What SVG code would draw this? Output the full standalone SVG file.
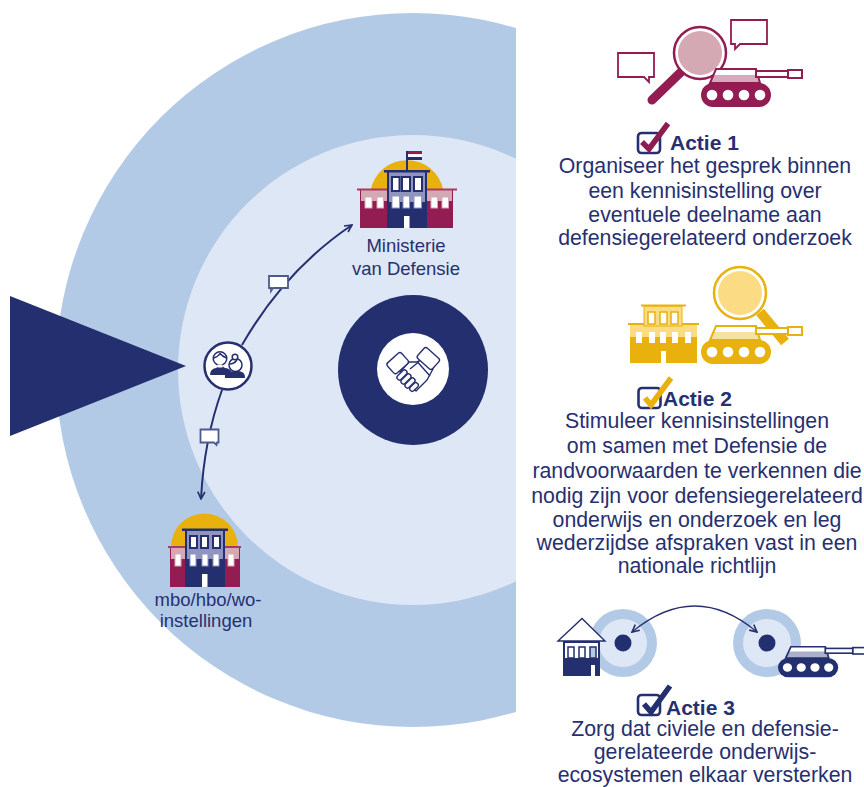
<svg xmlns="http://www.w3.org/2000/svg" width="864" height="787" viewBox="0 0 864 787">
<style>
text{font-family:"Liberation Sans",Arial,sans-serif;fill:#27306f;text-anchor:middle}
.b{font-size:21.300px}
.l{font-size:18.500px}
.h{font-size:21px;font-weight:bold;text-anchor:start}
.conn{fill:none;stroke:#27306f;stroke-width:2}
.bub{fill:#fff;stroke:#4d5a92;stroke-width:1.800}
.bubr{fill:#fff;stroke:#931c52;stroke-width:1.800}
.box{fill:none;stroke:#27306f;stroke-width:2.600}
.chk{fill:none;stroke-width:5.500}
.ic{fill:#fff;stroke:#27306f;stroke-width:1.500;stroke-linejoin:round}
</style>
<defs>
<marker id="ah" viewBox="0 0 10 10" refX="9" refY="5" markerWidth="9" markerHeight="9" orient="auto-start-reverse" markerUnits="userSpaceOnUse"><path d="M1,1 L9,5 L1,9" fill="none" stroke="#27306f" stroke-width="1.800"/></marker>
<symbol id="tank" overflow="visible" width="1" height="1">
<path d="M15,-14H55L59,0H9Z" fill="#fff" stroke="currentColor" stroke-width="2"/>
<path d="M12,-8H57L59,0H9Z" fill="currentColor" fill-opacity=".38"/>
<rect x="55" y="-12" width="32" height="6" fill="#fff" stroke="currentColor" stroke-width="2"/>
<rect x="87" y="-13" width="14" height="8" fill="#fff" stroke="currentColor" stroke-width="2"/>
<rect x="0" y="0" width="70" height="24" rx="12" fill="currentColor"/>
<circle cx="11" cy="12" r="5.300" fill="#fff"/><circle cx="27" cy="12" r="5.300" fill="#fff"/><circle cx="43" cy="12" r="5.300" fill="#fff"/><circle cx="59" cy="12" r="5.300" fill="#fff"/>
</symbol>
</defs>

<g id="background">
<circle cx="413" cy="370" r="357" fill="#b3cae7"/>
<circle cx="413" cy="370" r="235" fill="#dde7f5"/>
<rect x="516" y="0" width="348" height="787" fill="#fff"/>
<path d="M10,296L186,366L10,436Z" fill="#232f6e"/>
</g>

<g id="people">
<circle cx="228" cy="366" r="23.500" fill="#fff" stroke="#27306f" stroke-width="2.500"/>
<path d="M210,375Q210,369 216,368L219,366H222L225,368Q229,368 232,372L230,375Z" fill="#27306f"/>
<path d="M225,378V375Q226,373 231,372L234,371H239L242,372Q245,373 245,378Z" fill="#27306f"/>
<circle cx="220" cy="358.500" r="6.800" class="ic"/>
<path class="ic" d="M213.500,358Q218,357 220,353.500Q222,356 226.500,358" fill="none"/>
<rect x="217.500" y="364.500" width="5" height="3" fill="#fff"/>
<circle cx="235.500" cy="365" r="6.500" class="ic"/>
<circle cx="235" cy="357" r="2.800" class="ic"/>
<path class="ic" d="M229.500,364Q234,364 237,360" fill="none"/>
</g>

<g id="handshake">
<circle cx="413" cy="370" r="75" fill="#232f6e"/>
<circle cx="413" cy="369" r="36" fill="#fff"/>
<g class="ic" style="stroke-width:1.400">
<path d="M400,372L409,362L417,362L425,358L433,369L427,380L416,391L407,385Z"/>
<path d="M410,369L418,362.500L430,376" fill="none"/>
<rect x="-5" y="-10" width="14" height="19" rx="2.500" transform="translate(396,362) rotate(48)"/>
<rect x="-5" y="-10" width="14" height="20" rx="2.500" transform="translate(427,360) rotate(-48)"/>
<rect x="-2.500" y="-6" width="5" height="12" rx="2.400" transform="translate(402,375) rotate(45)"/>
<rect x="-2.500" y="-6" width="5" height="12" rx="2.400" transform="translate(406,379) rotate(45)"/>
<rect x="-2.500" y="-6" width="5" height="12" rx="2.400" transform="translate(410,383) rotate(45)"/>
<rect x="-2.500" y="-5" width="5" height="10" rx="2.400" transform="translate(414,387) rotate(45)"/>
</g>
</g>

<g id="ministerie">
<path d="M370.700,190A37,37 0 0 1 443.300,190Z" fill="#e8b10e"/>
<rect x="360" y="190" width="93" height="38" fill="#931c52"/>
<rect x="361" y="190" width="91" height="11" fill="#d5a9b4"/>
<rect x="357" y="188.500" width="100" height="2" fill="#a83a66"/>
<g fill="#fff" stroke="#d5a9b4"><rect x="365" y="197" width="7" height="11"/><rect x="377" y="197" width="6.500" height="11"/><rect x="431" y="197" width="6.500" height="11"/><rect x="442" y="197" width="6.500" height="11"/></g>
<rect x="387" y="172" width="40" height="56" fill="#232f6e"/>
<rect x="389" y="172" width="36" height="30" fill="#8f95bf"/>
<rect x="384" y="170" width="46" height="2.500" fill="#232f6e"/>
<g fill="#fff" stroke="#232f6e" stroke-width="2"><rect x="392" y="177" width="7.500" height="14"/><rect x="402" y="177" width="8" height="14"/><rect x="414" y="177" width="8" height="14"/></g>
<g fill="#fff" stroke="#8f95bf"><rect x="392" y="196" width="7.500" height="12"/><rect x="403" y="196" width="6.500" height="12"/><rect x="414" y="196" width="7.500" height="12"/></g>
<rect x="404" y="216" width="5.500" height="12" fill="#fff"/>
<rect x="406" y="151" width="2" height="20" fill="#232f6e"/>
<rect x="408" y="151" width="14" height="3.200" fill="#931c52"/><rect x="408" y="154.200" width="14" height="2.800" fill="#fff"/><rect x="408" y="157" width="14" height="3" fill="#232f6e"/>
<text class="l" x="406" y="252">Ministerie</text>
<text class="l" x="406" y="275">van Defensie</text>
</g>

<g id="instellingen">
<path d="M171,547A33.500,33.500 0 0 1 238,547Z" fill="#e8b10e"/>
<rect x="170" y="547" width="70" height="40" fill="#931c52"/>
<rect x="171" y="547" width="68" height="12" fill="#d5a9b4"/>
<rect x="168" y="546" width="73" height="2" fill="#a83a66"/>
<g fill="#fff" stroke="#d5a9b4"><rect x="175" y="554" width="6" height="12"/><rect x="228" y="554" width="6" height="12"/></g>
<rect x="185" y="530" width="40" height="57" fill="#232f6e"/>
<rect x="187" y="530" width="36" height="29" fill="#8f95bf"/>
<rect x="182" y="528.500" width="46" height="2.500" fill="#232f6e"/>
<g fill="#fff" stroke="#232f6e" stroke-width="2"><rect x="190" y="536" width="7" height="12"/><rect x="201" y="536" width="7" height="12"/><rect x="213" y="536" width="7" height="12"/></g>
<g fill="#fff" stroke="#8f95bf"><rect x="190" y="554" width="6" height="12"/><rect x="202" y="554" width="6" height="12"/><rect x="213" y="554" width="6" height="12"/></g>
<rect x="202" y="574" width="5.500" height="13" fill="#fff"/>
<text class="l" x="208" y="606">mbo/hbo/wo-</text>
<text class="l" x="206" y="627">instellingen</text>
</g>

<g id="actie-1">
<path class="bubr" d="M618,53H654V77H649L649,82L644,77H618Z"/>
<path class="bubr" d="M731,20H767V44H740L735,49V44H731Z"/>
<path d="M681,72L652,100" stroke="#931c52" stroke-width="9" stroke-linecap="round"/>
<circle cx="700" cy="53" r="26" fill="#fff" stroke="#931c52" stroke-width="2.500"/>
<circle cx="700" cy="53" r="22" fill="#d5a9b4"/>
<use href="#tank" x="701" y="83" color="#931c52"/>
<rect class="box" x="638" y="133" width="22" height="20" rx="3.500"/>
<path class="chk" d="M642,142L649,149L668,123.500" stroke="#8d1c52"/>
<text class="h" x="670" y="150">Actie 1</text>
<text class="b" x="705" y="173">Organiseer het gesprek binnen</text>
<text class="b" x="705" y="198">een kennisinstelling over</text>
<text class="b" x="705" y="222">eventuele deelname aan</text>
<text class="b" x="705" y="245">defensiegerelateerd onderzoek</text>
</g>

<g id="actie-2">
<path d="M760,312L785,342" stroke="#e8b10e" stroke-width="10"/>
<circle cx="740" cy="293" r="26" fill="#fff" stroke="#e8b10e" stroke-width="2.500"/>
<circle cx="740" cy="293" r="22" fill="#fbdc85"/>
<rect x="630" y="324" width="67" height="39" fill="#e8b10e"/>
<rect x="630" y="324" width="67" height="13" fill="#fbdc85"/>
<rect x="628" y="323" width="71" height="2" fill="#e8b10e"/>
<rect x="644" y="306" width="38" height="20" fill="#fbdc85" stroke="#e8b10e" stroke-width="1"/>
<rect x="641" y="304.500" width="45" height="2" fill="#e8b10e"/>
<g fill="#fff" stroke="#e8b10e" stroke-width="1.500"><rect x="648" y="312" width="7" height="12"/><rect x="660" y="312" width="7" height="12"/><rect x="671" y="312" width="7" height="12"/></g>
<g fill="#fff"><rect x="636" y="332" width="6" height="11"/><rect x="649" y="332" width="6" height="11"/><rect x="660" y="332" width="6" height="11"/><rect x="672" y="332" width="6" height="11"/><rect x="685" y="332" width="6" height="11"/><rect x="661" y="351" width="5" height="12"/></g>
<use href="#tank" x="701" y="340" color="#e8b10e"/>
<rect class="box" x="638.500" y="388" width="22" height="20" rx="3.500"/>
<path class="chk" d="M645,398L651,405L671,378" stroke="#e8b10e"/>
<text class="h" x="663" y="406">Actie 2</text>
<text class="b" x="697" y="428">Stimuleer kennisinstellingen</text>
<text class="b" x="697" y="453">om samen met Defensie de</text>
<text class="b" x="697" y="478">randvoorwaarden te verkennen die</text>
<text class="b" x="697" y="503">nodig zijn voor defensiegerelateerd</text>
<text class="b" x="697" y="527">onderwijs en onderzoek en leg</text>
<text class="b" x="697" y="550">wederzijdse afspraken vast in een</text>
<text class="b" x="697" y="573">nationale richtlijn</text>
</g>

<g id="actie-3">
<circle cx="623" cy="643" r="34" fill="#b3cae7"/><circle cx="623" cy="643" r="24" fill="#dde7f5"/><circle cx="623" cy="643" r="8.500" fill="#232f6e"/>
<circle cx="767" cy="643" r="34" fill="#b3cae7"/><circle cx="767" cy="643" r="24" fill="#dde7f5"/><circle cx="767" cy="643" r="8.500" fill="#232f6e"/>
<rect x="563" y="641" width="37" height="35" fill="#232f6e"/>
<rect x="565" y="643" width="33" height="16" fill="#fff"/>
<path d="M558,641L582,618.500L605,641Z" fill="#fff" stroke="#232f6e" stroke-width="1.400"/>
<g fill="#b3cae7" stroke="#232f6e" stroke-width="1.500"><rect x="568" y="647" width="6" height="11" fill="#fff"/><rect x="579" y="647" width="6" height="11" fill="#fff"/><rect x="590" y="647" width="6" height="11"/></g>
<rect x="563" y="658" width="37" height="3" fill="#232f6e"/>
<rect x="591" y="665" width="4" height="11" fill="#fff"/>
<g transform="translate(778,658) scale(.86,.8)"><use href="#tank" color="#232f6e"/></g>
<rect class="box" x="638" y="695" width="22" height="20" rx="3.500"/>
<path class="chk" d="M644,704L651,712L670,686" stroke="#232f6e"/>
<text class="h" x="666" y="715">Actie 3</text>
<text class="b" x="705" y="736">Zorg dat civiele en defensie-</text>
<text class="b" x="705" y="759">gerelateerde onderwijs-</text>
<text class="b" x="705" y="782.300">ecosystemen elkaar versterken</text>
</g>

<g id="connectors">
<path class="conn" d="M242,345Q285,270 352,225" marker-end="url(#ah)"/>
<path class="conn" d="M222,390Q204,440 201,499" marker-end="url(#ah)"/>
<path class="conn" style="stroke-width:1.300" d="M632,632Q695,580 757,632" marker-start="url(#ah)" marker-end="url(#ah)"/>
</g>

<g id="bubble-1"><path class="bub" d="M269,276H288V288H273L271,291V288H269Z"/></g>
<g id="bubble-2"><path class="bub" d="M200.500,429.500H218.500V442.500H217L216.500,445L214,442.500H200.500Z"/></g>
</svg>
